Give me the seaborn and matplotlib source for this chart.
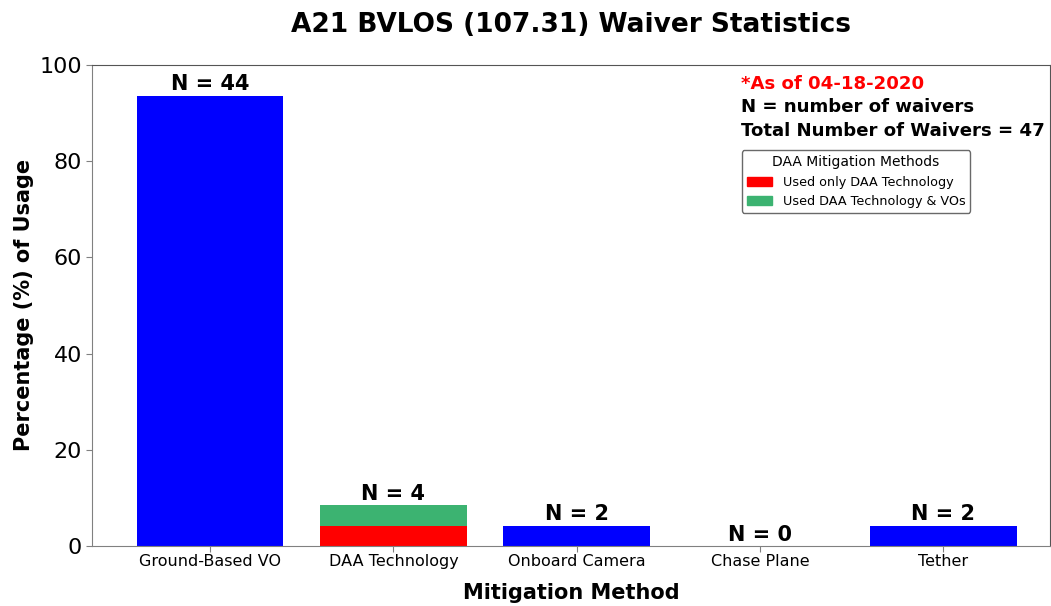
import matplotlib
matplotlib.use("Agg")
import matplotlib.pyplot as plt
import matplotlib.patches as mpatches
import seaborn as sns
import pandas as pd

# Waiver counts per mitigation method
methods = ["Ground-Based VO", "DAA Technology", "Onboard Camera", "Chase Plane", "Tether"]
counts = [44, 4, 2, 0, 2]
daa_only = [0, 2, 0, 0, 0]   # used only DAA technology
total_waivers = 47

pct = [c / total_waivers * 100 for c in counts]
pct_daa_only = [c / total_waivers * 100 for c in daa_only]
bar_colors = ["blue", "mediumseagreen", "blue", "blue", "blue"]

df = pd.DataFrame({"method": methods, "pct": pct, "daa_only": pct_daa_only})

sns.set_style("white")
plt.rcParams["font.family"] = ["DejaVu Sans"]
plt.rcParams.update({"text.color": "black", "axes.labelcolor": "black",
                     "xtick.color": "gray", "ytick.color": "gray",
                     "xtick.labelcolor": "black", "ytick.labelcolor": "black"})

fig, ax = plt.subplots(figsize=(10.51, 6.06), dpi=100)
fig.subplots_adjust(left=0.0875, right=0.9995, top=0.893, bottom=0.099)

sns.barplot(data=df, x="method", y="pct", hue="method", palette=bar_colors,
            legend=False, width=0.8, saturation=1, linewidth=0, ax=ax)
sns.barplot(data=df, x="method", y="daa_only", color="red",
            width=0.8, saturation=1, linewidth=0, ax=ax)

for i, (n, p) in enumerate(zip(counts, pct)):
    ax.text(i, p + 0.3, f"N = {n}", ha="center", va="bottom",
            fontsize=15, fontweight="bold")

ax.set_xlim(-0.645, 4.585)
ax.set_ylim(0, 100)
ax.set_yticks([0, 20, 40, 60, 80, 100])
ax.tick_params(axis="y", labelsize=16, length=4, pad=3, left=True)
ax.tick_params(axis="x", labelsize=11.5, length=4, pad=2, bottom=True)
for s in ax.spines.values():
    s.set_color("#555555")
ax.spines["left"].set_color("gray")
ax.spines["bottom"].set_color("gray")

ax.set_title("A21 BVLOS (107.31) Waiver Statistics", fontsize=19, fontweight="bold", pad=24)
ax.set_xlabel("Mitigation Method", fontsize=15, fontweight="bold", labelpad=10)
ax.set_ylabel("Percentage (%) of Usage", fontsize=15, fontweight="bold", labelpad=4)

ax.text(0.677, 0.96, "*As of 04-18-2020", transform=ax.transAxes, color="red",
        fontsize=13.1, fontweight="bold", va="center")
ax.text(0.677, 0.912, "N = number of waivers", transform=ax.transAxes,
        fontsize=13.1, fontweight="bold", va="center")
ax.text(0.677, 0.862, "Total Number of Waivers = 47", transform=ax.transAxes,
        fontsize=13.1, fontweight="bold", va="center")

handles = [mpatches.Patch(color="red", label="Used only DAA Technology"),
           mpatches.Patch(color="mediumseagreen", label="Used DAA Technology & VOs")]
leg = ax.legend(handles=handles, title="DAA Mitigation Methods", loc="upper right",
                bbox_to_anchor=(0.9165, 0.823), borderaxespad=0, fontsize=9.2,
                title_fontsize=10, frameon=True, fancybox=True, edgecolor="#444444")

fig.savefig("out.png", dpi=100)
